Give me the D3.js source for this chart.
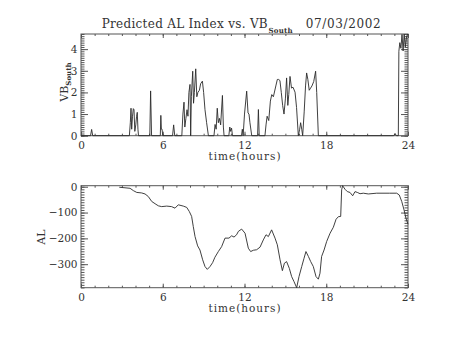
<!DOCTYPE html>
<html>
<head>
<meta charset="utf-8">
<script src="https://cdn.jsdelivr.net/npm/d3@7"></script>
<style>
  html, body { margin: 0; padding: 0; background: #fff; }
  svg { display: block; }
  text { font-family: "DejaVu Serif", serif; fill: #333; }
</style>
</head>
<body>
<svg id="chart" width="453" height="340"></svg>
<script>
// Time axis (hours of the day)
const xTickValues = [0, 6, 12, 18, 24];
const xTickLabels = ["0", "6", "12", "18", "24"];

// Southward IMF component VB_South
const vbHours = [
  0, 0.70, 0.78, 0.86, 3.55, 3.62, 3.67, 3.72, 3.78, 3.84, 3.89, 3.95, 4.02, 4.08, 4.13, 4.18, 4.22,
  5.05, 5.11, 5.18, 5.82, 5.86, 5.90, 5.95, 6.00, 6.72, 6.80, 6.88,
  7.40, 7.48, 7.56, 7.62, 7.70, 7.78, 7.85, 7.92, 8.00, 8.05, 8.10, 8.20, 8.26, 8.32, 8.42, 8.50,
  8.58, 8.69, 8.78, 8.91, 9.00, 9.10, 9.22, 9.35,
  9.76, 9.84, 9.92, 10.00, 10.08, 10.16, 10.25, 10.38, 10.45, 10.50,
  10.85, 10.92, 10.98, 11.05, 11.12, 11.78, 11.84, 11.90, 12.00, 12.16, 12.26, 12.33, 12.40, 12.53,
  12.96, 13.02, 13.08, 13.50, 13.58, 13.66, 13.78, 13.90, 14.00, 14.12, 14.30, 14.41, 14.50, 14.60,
  14.70, 14.80, 14.90, 15.00, 15.09, 15.18, 15.25, 15.34, 15.45, 15.56, 15.71, 15.82, 15.95,
  16.05, 16.12, 16.20, 16.27, 16.38, 16.48, 16.56, 16.65, 16.75, 16.85, 16.95, 17.08, 17.22, 17.30, 17.42,
  22.95, 23.05, 23.15, 23.29, 23.33, 23.40, 23.48, 23.56, 23.64, 23.72, 23.80, 23.90, 24.00
];
const vbSouth = [
  0, 0, 0.29, 0, 0, 0.6, 1.27, 0.3, 0.9, 1.25, 1.2, 0.2, 0.5, 0.9, 1.08, 0.3, 0,
  0, 2.07, 0, 0, 0.94, 0.3, 0.3, 0, 0, 0.5, 0,
  0, 1.0, 1.55, 0.4, 0.8, 1.2, 0.9, 2.0, 2.37, 0, 1.8, 2.98, 1.5, 2.0, 3.09, 1.8,
  2.0, 2.1, 2.4, 2.52, 2.0, 1.2, 0.6, 0,
  0, 0.52, 0.3, 1.27, 0.6, 0.8, 0.5, 1.86, 0.4, 0,
  0, 0.4, 0.2, 0.35, 0, 0, 0.3, 0, 1.0, 2.06, 1.05, 1.0, 0.6, 0,
  0, 1.21, 0, 0, 0.5, 0.9, 0.7, 1.6, 1.9, 1.8, 2.3, 2.6, 2.6, 2.55,
  2.0, 1.4, 1.0, 1.7, 2.67, 1.4, 1.9, 2.74, 2.2, 2.24, 2.01, 1.3, 0,
  0.3, 0.6, 0.3, 0, 1.1, 2.3, 2.9, 2.6, 2.1, 2.2, 2.3, 2.5, 2.98, 2.0, 0,
  0, 0.1, 0, 0, 3.9, 4.3, 4.04, 4.68, 3.92, 4.7, 4.1, 4.6, 4.7
];
const vbTickValues = [0, 1, 2, 3, 4];

// Predicted AL index (nT)
const alHours = [
  2.81, 3.60, 3.84, 4.09, 4.45, 4.70, 4.94, 5.19, 5.50, 5.68, 5.92, 6.29, 6.65, 6.90, 7.14, 7.51,
  7.76, 7.95, 8.12, 8.24, 8.37, 8.56, 8.73, 8.93, 9.10, 9.27, 9.47, 9.66, 9.83, 10.08, 10.32, 10.57,
  10.86, 11.06, 11.23, 11.42, 11.55, 11.79, 12.04, 12.28, 12.45, 12.65, 12.89, 13.14, 13.38, 13.58,
  13.75, 13.99, 14.24, 14.41, 14.61, 14.78, 14.93, 15.09, 15.29, 15.46, 15.63, 15.83, 16.00, 16.20,
  16.37, 16.51, 16.69, 16.86, 17.05, 17.25, 17.42, 17.54, 17.66, 17.84, 18.03, 18.28, 18.52, 18.72,
  18.89, 19.06, 19.13, 19.20, 19.38, 19.55, 19.74, 19.94, 20.11, 20.28, 20.48, 20.72, 21.09, 21.70,
  22.64, 23.17, 23.36, 23.54, 23.71, 23.85, 24.00
];
const alIndex = [
  -2, -6, -15, -22, -24, -28, -38, -57, -68, -74, -77, -75, -77, -83, -70, -75,
  -80, -96, -115, -154, -193, -229, -245, -283, -309, -320, -309, -294, -273, -251, -232, -199,
  -199, -190, -195, -186, -173, -164, -180, -238, -251, -246, -244, -234, -206, -186,
  -193, -167, -199, -225, -283, -325, -296, -290, -316, -348, -367, -391, -348, -309,
  -277, -251, -270, -290, -309, -348, -358, -335, -270, -245, -212, -180, -157, -126,
  -116, -115, -12, 4, -10, -19, -22, -35, -19, -22, -27, -25, -28, -25,
  -25, -25, -32, -57, -90, -122, -145
];
const alTickValues = [0, -100, -200, -300];

const svg = d3.select("#chart");
const left = 81, right = 408;
const panels = [
  { top: 34, bottom: 135.7, xs: vbHours, ys: vbSouth, yTicks: vbTickValues, yMinor: 0.1, fixedMin: 0 },
  { top: 185.7, bottom: 287.7, xs: alHours, ys: alIndex, yTicks: alTickValues, yMinor: 10 }
];

const x = d3.scaleLinear().domain([0, 24]).range([left, right]);

function styleAxis(g) {
  g.select(".domain").remove();
  g.selectAll(".tick line").attr("stroke", "#555").attr("stroke-width", 1);
  g.selectAll(".tick text").attr("font-size", 10.5).attr("fill", "#333")
    .style("font-family", "'DejaVu Serif', serif");
}

panels.forEach(p => {
  const ext = d3.extent(p.ys);
  const lo = p.fixedMin !== undefined ? p.fixedMin : ext[0];
  const y = d3.scaleLinear().domain([lo, ext[1]]).range([p.bottom, p.top]);
  const g = svg.append("g");
  const minorX = d3.range(0, 25, 1);
  const minorY = d3.range(Math.ceil(lo / p.yMinor), Math.floor(ext[1] / p.yMinor) + 1).map(k => k * p.yMinor);

  // minor ticks on all four sides, pointing inward
  g.append("g").attr("transform", `translate(0,${p.bottom})`)
    .call(d3.axisBottom(x).tickValues(minorX).tickSize(-2).tickFormat("")).call(styleAxis);
  g.append("g").attr("transform", `translate(0,${p.top})`)
    .call(d3.axisTop(x).tickValues(minorX).tickSize(-2).tickFormat("")).call(styleAxis);
  g.append("g").attr("transform", `translate(${left},0)`)
    .call(d3.axisLeft(y).tickValues(minorY).tickSize(-3.5).tickFormat("")).call(styleAxis);
  g.append("g").attr("transform", `translate(${right},0)`)
    .call(d3.axisRight(y).tickValues(minorY).tickSize(-3.5).tickFormat("")).call(styleAxis);

  // major ticks and labels
  g.append("g").attr("transform", `translate(0,${p.bottom})`)
    .call(d3.axisBottom(x).tickValues(xTickValues).tickSize(-4).tickPadding(5.5)
      .tickFormat((d, i) => xTickLabels[i])).call(styleAxis);
  g.append("g").attr("transform", `translate(0,${p.top})`)
    .call(d3.axisTop(x).tickValues(xTickValues).tickSize(-4).tickFormat("")).call(styleAxis);
  g.append("g").attr("transform", `translate(${left},0)`)
    .call(d3.axisLeft(y).tickValues(p.yTicks).tickSize(-7).tickPadding(3.5)
      .tickFormat(d => d < 0 ? "\u2212" + Math.abs(d) : String(d))).call(styleAxis);
  g.append("g").attr("transform", `translate(${right},0)`)
    .call(d3.axisRight(y).tickValues(p.yTicks).tickSize(-7).tickFormat("")).call(styleAxis);

  // plot frame
  g.append("rect").attr("x", left).attr("y", p.top)
    .attr("width", right - left).attr("height", p.bottom - p.top)
    .attr("fill", "none").attr("stroke", "#555").attr("stroke-width", 1);

  // data line
  const line = d3.line().x((d, i) => x(p.xs[i])).y(d => y(d));
  g.append("path").datum(p.ys).attr("d", line)
    .attr("fill", "none").attr("stroke", "#2a2a2a").attr("stroke-width", 0.9);

  // x-axis title
  g.append("text").attr("x", (left + right) / 2).attr("y", p.bottom + 24.5)
    .attr("text-anchor", "middle").attr("font-size", 10.5)
    .attr("textLength", 72).attr("lengthAdjust", "spacing").text("time(hours)");
});

// title
const title = svg.append("g");
title.append("text").attr("x", 101.7).attr("y", 28).attr("font-size", 12)
  .attr("textLength", 166).attr("lengthAdjust", "spacing").text("Predicted AL Index vs. VB");
title.append("text").attr("x", 268.5).attr("y", 33).attr("font-size", 7).attr("font-weight", "bold")
  .attr("textLength", 24).attr("lengthAdjust", "spacing").text("South");
title.append("text").attr("x", 305.7).attr("y", 28).attr("font-size", 12)
  .attr("textLength", 75).attr("lengthAdjust", "spacing").text("07/03/2002");

// y-axis titles
const yl1 = svg.append("text").attr("transform", "translate(68,101.7) rotate(-90)").attr("font-size", 11);
yl1.append("tspan").text("VB");
yl1.append("tspan").attr("font-size", 7).attr("font-weight", "bold").attr("dy", 3).text("South");
svg.append("text").attr("transform", "translate(45,237) rotate(-90)")
  .attr("text-anchor", "middle").attr("font-size", 11).text("AL");
</script>
</body>
</html>
